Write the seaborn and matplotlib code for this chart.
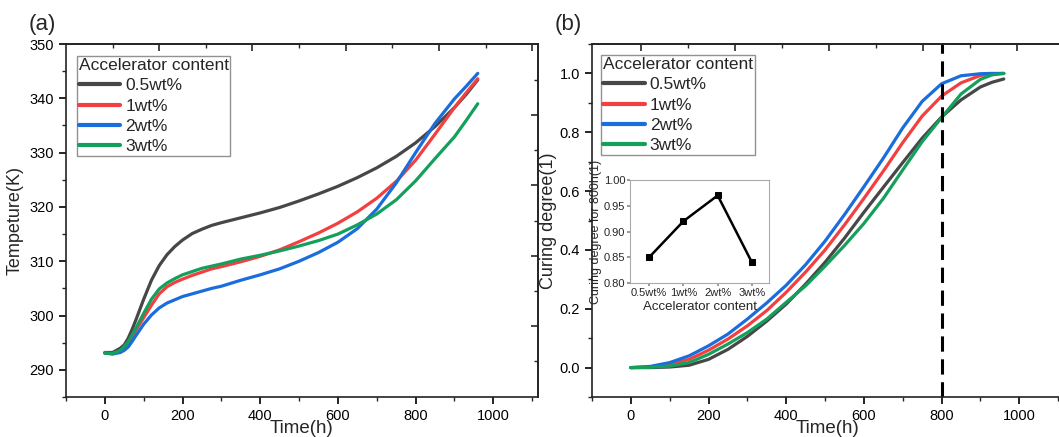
import numpy as np
import pandas as pd
import matplotlib
matplotlib.use('Agg')
import matplotlib.pyplot as plt
import seaborn as sns

# data
time_a = [0, 20, 40, 50, 60, 70, 80, 100, 120, 140, 160, 180, 200, 225, 250, 275, 300, 350, 400, 450,
          500, 550, 600, 650, 700, 750, 800, 850, 900, 930, 960]
temp_05 = [293.2, 293.2, 294.0, 294.6, 295.8, 297.4, 299.2, 303.0, 306.5, 309.2, 311.2, 312.7, 313.9, 315.1, 315.9,
           316.6, 317.1, 318.0, 318.9, 319.9, 321.1, 322.4, 323.8, 325.4, 327.2, 329.3, 331.8, 334.8, 338.3, 340.7, 343.4]
temp_1 = [293.1, 293.0, 293.5, 294.1, 294.9, 296.0, 297.3, 299.6, 301.9, 304.0, 305.3, 306.1, 306.7, 307.4, 308.0,
          308.6, 309.0, 309.9, 310.9, 312.1, 313.6, 315.2, 317.0, 319.1, 321.6, 324.7, 328.6, 333.4, 338.3, 341.0, 343.6]
temp_2 = [293.1, 292.9, 293.2, 293.6, 294.2, 295.2, 296.3, 298.4, 300.1, 301.4, 302.3, 302.9, 303.5, 304.0, 304.5,
          305.0, 305.4, 306.5, 307.5, 308.6, 310.0, 311.6, 313.5, 316.0, 319.6, 324.4, 330.0, 335.4, 339.9, 342.2, 344.6]
temp_3 = [293.1, 293.0, 293.6, 294.3, 295.2, 296.4, 297.7, 300.4, 303.0, 304.9, 306.0, 306.8, 307.5, 308.1, 308.7,
          309.1, 309.5, 310.4, 311.1, 311.9, 312.8, 313.8, 315.0, 316.7, 318.7, 321.3, 324.8, 328.9, 332.9, 335.9, 339.0]

time_b = [0, 50, 100, 150, 200, 250, 300, 350, 400, 450, 500, 550, 600, 650, 700, 750, 800, 850, 900, 930, 960]
cure_05 = [0.0, 0.0, 0.002, 0.008, 0.028, 0.062, 0.106, 0.158, 0.216, 0.284, 0.358, 0.44, 0.528, 0.613, 0.697,
           0.78, 0.852, 0.91, 0.954, 0.97, 0.981]
cure_1 = [0.0, 0.002, 0.011, 0.028, 0.059, 0.097, 0.142, 0.194, 0.256, 0.325, 0.40, 0.485, 0.575, 0.668, 0.765,
          0.855, 0.923, 0.968, 0.993, 0.998, 1.0]
cure_2 = [0.0, 0.004, 0.017, 0.04, 0.074, 0.114, 0.165, 0.22, 0.28, 0.35, 0.43, 0.52, 0.615, 0.712, 0.815,
          0.905, 0.965, 0.992, 0.999, 1.0, 1.0]
cure_3 = [0.0, 0.001, 0.005, 0.017, 0.045, 0.08, 0.119, 0.165, 0.222, 0.278, 0.345, 0.415, 0.49, 0.575, 0.672,
          0.768, 0.85, 0.93, 0.98, 0.995, 1.0]

labels = ['0.5wt%', '1wt%', '2wt%', '3wt%']
colors = ['#474747', '#f23f3f', '#1a6ddc', '#14a05c']

inset_cats = ['0.5wt%', '1wt%', '2wt%', '3wt%']
inset_vals = [0.85, 0.92, 0.97, 0.84]

temp_df = pd.DataFrame({
    'Time': time_a * 4,
    'T': temp_05 + temp_1 + temp_2 + temp_3,
    'content': [l for l in labels for _ in time_a],
})
cure_df = pd.DataFrame({
    'Time': time_b * 4,
    'alpha': cure_05 + cure_1 + cure_2 + cure_3,
    'content': [l for l in labels for _ in time_b],
})
inset_df = pd.DataFrame({'content': inset_cats, 'alpha800': inset_vals})

sns.set_style('ticks')
plt.rcParams['font.family'] = ['Liberation Sans', 'DejaVu Sans']
plt.rcParams['axes.linewidth'] = 1.2
plt.rcParams['xtick.major.width'] = 1.2
plt.rcParams['ytick.major.width'] = 1.2
plt.rcParams['xtick.minor.width'] = 1.0
plt.rcParams['ytick.minor.width'] = 1.0
plt.rcParams['lines.solid_capstyle'] = 'round'
plt.rcParams['lines.solid_joinstyle'] = 'round'

fig = plt.figure(figsize=(10.59, 4.37), dpi=100)
ax1 = fig.add_axes([0.0623, 0.0915, 0.4457, 0.8078])
ax2 = fig.add_axes([0.559, 0.0915, 0.4457, 0.8078])
palette = dict(zip(labels, colors))


def style_axis(ax, top_major, top_minor):
    ax.set_xticks([0, 200, 400, 600, 800, 1000])
    ax.set_xticks([-100, 100, 300, 500, 700, 900, 1100], minor=True)
    ax.tick_params(axis='both', which='major', direction='out', length=5, labelsize=10.5, colors='black')
    ax.tick_params(axis='both', which='minor', direction='out', length=3)
    for sp in ax.spines.values():
        sp.set_color('#222222')
    top = ax.secondary_xaxis('top')
    top.set_xticks(top_major)
    top.set_xticks(top_minor, minor=True)
    top.tick_params(which='major', direction='in', length=5, labeltop=False)
    top.tick_params(which='minor', direction='in', length=3)
    return top


def make_legend(ax, anchor):
    leg = ax.legend(title='Accelerator content', loc='upper left', bbox_to_anchor=anchor,
                    fontsize=12.5, title_fontsize=12.5, frameon=True, fancybox=False,
                    edgecolor='#777777', handlelength=2.4, handletextpad=0.3, borderpad=0.1,
                    labelspacing=0.3, borderaxespad=0.2)
    leg._legend_box.align = 'left'
    leg.get_frame().set_linewidth(1.0)
    for h in leg.get_lines():
        h.set_linewidth(3)
    return leg


# panel (a)
sns.lineplot(data=temp_df, x='Time', y='T', hue='content', palette=palette,
             sort=False, estimator=None, linewidth=2.3, ax=ax1)
ax1.set_xlim(-100, 1115)
ax1.set_ylim(285, 350)
ax1.set_yticks([290, 300, 310, 320, 330, 340, 350])
ax1.set_yticks([285, 295, 305, 315, 325, 335, 345], minor=True)
style_axis(ax1, [140, 380, 620, 860, 1100], [20, 260, 500, 740, 980])
r1 = ax1.secondary_yaxis('right')
r1.set_yticks([298.1, 311.0, 324.0, 336.9])
r1.set_yticks([291.7, 304.6, 317.5, 330.4, 343.3], minor=True)
r1.tick_params(which='major', direction='in', length=5, labelright=False)
r1.tick_params(which='minor', direction='in', length=3)
ax1.set_xlabel('Time(h)', fontsize=13.5, labelpad=-2)
ax1.set_ylabel('Tempeture(K)', fontsize=13, labelpad=4)
make_legend(ax1, (0.016, 0.975))

# panel (b)
sns.lineplot(data=cure_df, x='Time', y='alpha', hue='content', palette=palette,
             sort=False, estimator=None, linewidth=2.3, ax=ax2)
ax2.axvline(800, color='black', linewidth=2.2, linestyle=(0, (5, 2.5)))
ax2.set_xlim(-100, 1115)
ax2.set_ylim(-0.1, 1.1)
ax2.set_yticks([0.0, 0.2, 0.4, 0.6, 0.8, 1.0])
ax2.set_yticks([-0.1, 0.1, 0.3, 0.5, 0.7, 0.9, 1.1], minor=True)
ax2.yaxis.set_major_formatter(matplotlib.ticker.FormatStrFormatter('%.1f'))
style_axis(ax2, [26, 268, 510, 753, 995], [147, 389, 631, 874])
ax2.set_xlabel('Time(h)', fontsize=13.5, labelpad=-2)
ax2.set_ylabel('Curing degree(1)', fontsize=13, labelpad=2)
make_legend(ax2, (0.012, 0.978))

# inset
axin = fig.add_axes([0.5949, 0.3524, 0.1313, 0.2357])
sns.lineplot(data=inset_df, x='content', y='alpha800', color='black', marker='s',
             markersize=5, markeredgecolor='black', linewidth=1.8, sort=False, ax=axin)
axin.set_xlim(-0.56, 3.5)
axin.set_ylim(0.80, 1.00)
axin.set_yticks([0.80, 0.85, 0.90, 0.95, 1.00])
axin.yaxis.set_major_formatter(matplotlib.ticker.FormatStrFormatter('%.2f'))
axin.tick_params(axis='both', direction='out', length=2.5, labelsize=8, pad=1, color='#888888')
axin.set_xlabel('Accelerator content', fontsize=9.5, labelpad=2)
axin.set_ylabel('Curing degree for 800h(1)', fontsize=9, labelpad=1)
axin.patch.set_alpha(0)
for sp in axin.spines.values():
    sp.set_color('#aaaaaa')
    sp.set_linewidth(0.8)

fig.text(0.027, 0.943, '(a)', fontsize=16, va='center')
fig.text(0.524, 0.943, '(b)', fontsize=16, va='center')

fig.savefig('out.png', dpi=100, facecolor='white')
